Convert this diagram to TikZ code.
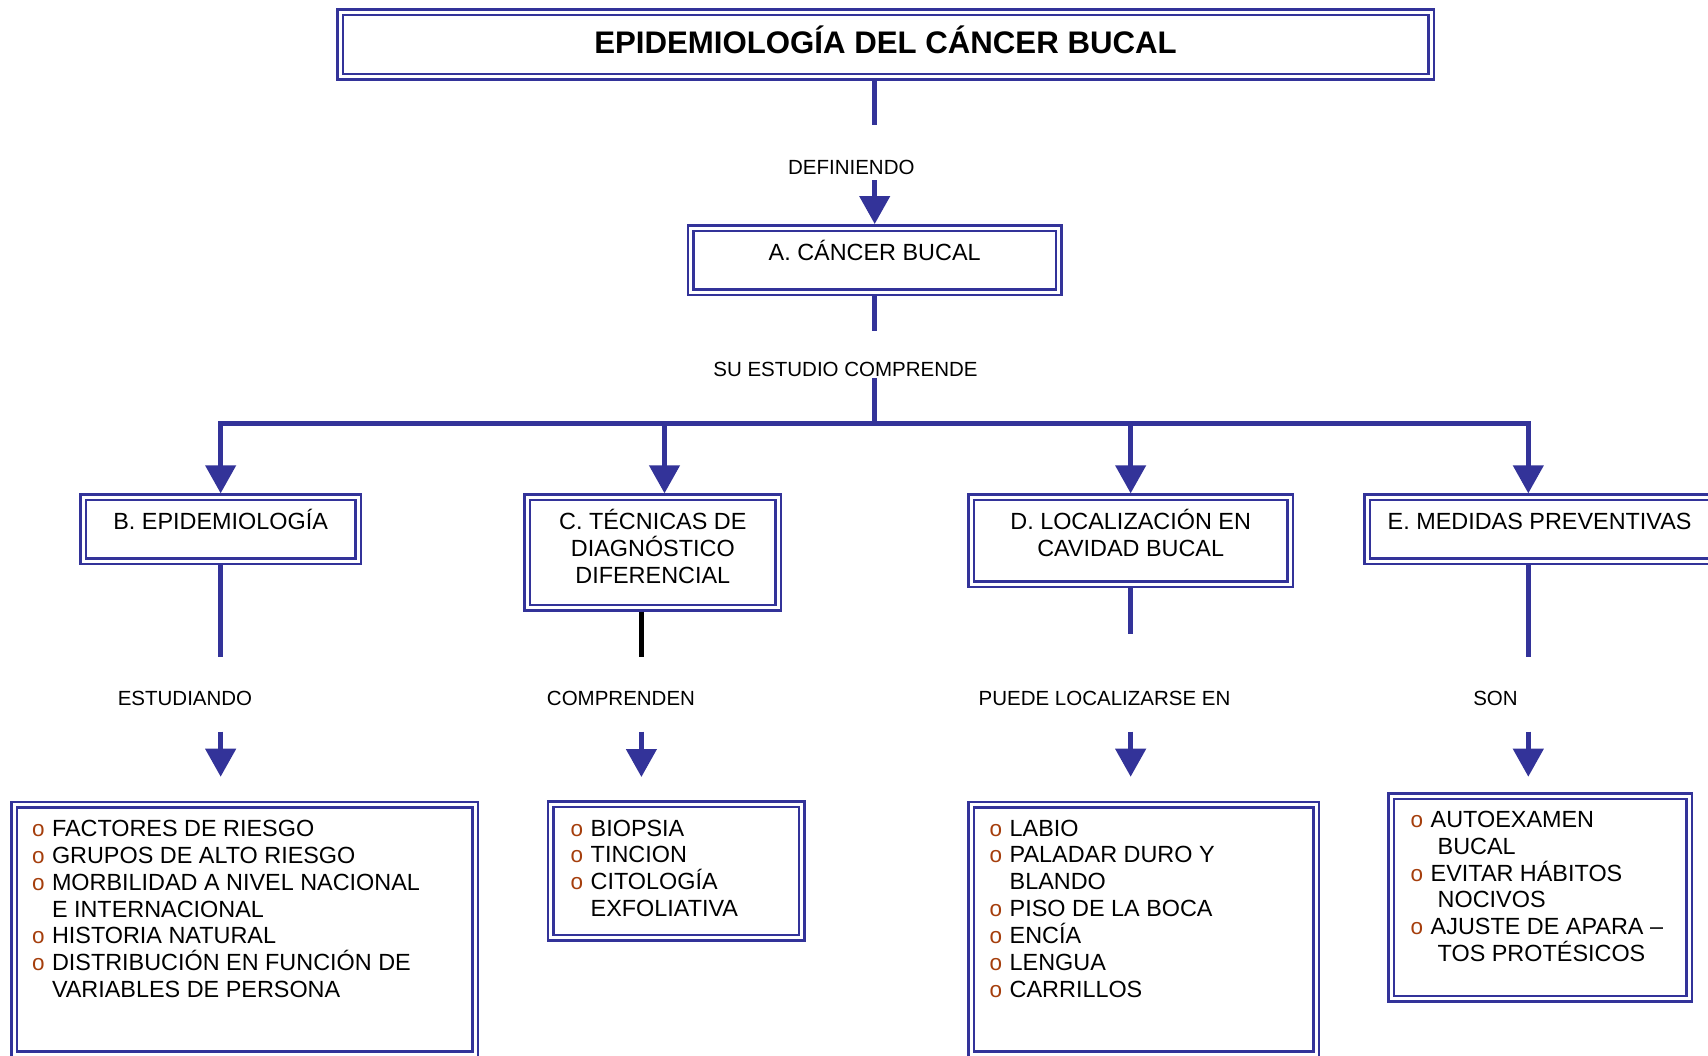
\documentclass[tikz,border=0pt]{standalone}
\usepackage{fontspec}
\setmainfont{Liberation Sans}
\usetikzlibrary{arrows.meta}
\definecolor{bblue}{RGB}{51,51,153}
\definecolor{bulc}{RGB}{165,62,12}
\newcommand\boxtxt[4]{\parbox[c][#2][t]{#1}{\fontsize{23.4}{27}\selectfont\centering\rule{0pt}{#3}#4}}
\newcommand\titletxt[4]{\parbox[c][#2][t]{#1}{\fontsize{31.2}{36}\selectfont\bfseries\centering\rule{0pt}{#3}#4}}
\newcommand\listtxt[5]{\parbox[c][#2][t]{#1}{\fontsize{23.4}{26.85}\selectfont\raggedright\leftskip=#4\relax\rule{0pt}{#3}#5}}
\newcommand\bul{\makebox[20pt][l]{\fontsize{22.5}{22}\selectfont\textcolor{bulc}{o}}}
\newcommand\cont[1][20pt]{\hspace*{#1}}
\begin{document}
\begin{tikzpicture}[x=1pt,y=-1pt,
  dbox/.style={draw=bblue, double=white, double distance=3pt, line width=2.5pt, fill=white, rectangle, inner sep=0pt, outer sep=4pt},
  conn/.style={draw=bblue, line width=4.5pt},
  arr/.style={conn, -{Triangle[width=30pt,length=28pt]}},
  lbl/.style={anchor=base, inner sep=0pt, font=\fontsize{20.5}{24}\selectfont}]
\useasboundingbox (0,0) rectangle (1708,1055);
\clip (0,0) rectangle (1708,1055);
\fill[white] (0,0) rectangle (1708,1055);

% boxes
\node[dbox] (T) at (885.5,44.35) {\titletxt{1091pt}{64.7pt}{41.5pt}{EPIDEMIOLOGÍA DEL CÁNCER BUCAL}};
\node[dbox] (A) at (874.7,260) {\boxtxt{368pt}{64pt}{32pt}{A. CÁNCER BUCAL}};
\node[dbox] (B) at (220.65,529.3) {\boxtxt{274.7pt}{64pt}{31.7pt}{B. EPIDEMIOLOGÍA}};
\node[dbox] (C) at (652.8,552.5) {\boxtxt{251pt}{110.4pt}{31.7pt}{C. TÉCNICAS DE\\DIAGNÓSTICO\\DIFERENCIAL}};
\node[dbox] (D) at (1130.65,540.75) {\boxtxt{318.7pt}{86.9pt}{31.7pt}{D. LOCALIZACIÓN EN\\CAVIDAD BUCAL}};
\node[dbox] (E) at (1539.65,529.3) {\boxtxt{344.7pt}{64pt}{31.7pt}{E. MEDIDAS PREVENTIVAS}};

\node[dbox] (LB) at (244.5,929.35) {\listtxt{461pt}{249.3pt}{31.8pt}{18pt}{\bul FACTORES DE RIESGO\\\bul GRUPOS DE ALTO RIESGO\\\bul MORBILIDAD A NIVEL NACIONAL\\\cont E INTERNACIONAL\\\bul HISTORIA NATURAL\\\bul DISTRIBUCIÓN EN FUNCIÓN DE\\\cont VARIABLES DE PERSONA}};
\node[dbox] (LC) at (676.2,870.85) {\listtxt{251pt}{133.7pt}{32pt}{20pt}{\bul BIOPSIA\\\bul TINCION\\\bul CITOLOGÍA\\\cont EXFOLIATIVA}};
\node[dbox] (LD) at (1143.65,929.35) {\listtxt{344.7pt}{249.3pt}{31.4pt}{18.4pt}{\bul LABIO\\\bul PALADAR DURO Y\\\cont BLANDO\\\bul PISO DE LA BOCA\\\bul ENCÍA\\\bul LENGUA\\\bul CARRILLOS}};
\node[dbox] (LE) at (1540.3,897.35) {\listtxt{298pt}{202.7pt}{31.3pt}{19.4pt}{\bul AUTOEXAMEN\\\cont[27pt]BUCAL\\\bul EVITAR HÁBITOS\\\cont[27pt]NOCIVOS\\\bul AJUSTE DE APARA –\\\cont[27pt]TOS PROTÉSICOS}};

% labels
\node[lbl] (l0) at (851.3,174) {DEFINIENDO};
\node[lbl] (l1) at (845.5,376.7) {SU ESTUDIO COMPRENDE};
\node[lbl] (lB) at (185,705.5) {ESTUDIANDO};
\node[lbl] (lC) at (621,705) {COMPRENDEN};
\node[lbl] (lD) at (1104.5,705) {PUEDE LOCALIZARSE EN};
\node[lbl] (lE) at (1495.5,705.5) {SON};

% top connectors
\coordinate (a0) at (874.7,125);
\coordinate (a1) at (874.7,180);
\draw[conn] (T.south -| A.north) -- (a0);
\draw[arr] (a1) -- (A.north);
\coordinate (b0) at (874.7,330.7);
\coordinate (b1) at (874.7,378);
\coordinate (bar) at (874.7,423.7);
\draw[conn] (A.south) -- (b0);
\draw[conn] (b1) -- (bar);
\coordinate (xc) at ([xshift=11.7pt]C.north);
\coordinate (xe) at ([xshift=-11.35pt]E.north);
\draw[conn] ([xshift=-2.25pt]B.north |- bar) -- ([xshift=2.25pt]xe |- bar);
\draw[arr] ([yshift=2.25pt]B.north |- bar) -- (B.north);
\draw[arr] ([yshift=2.25pt]xc |- bar) -- (xc);
\draw[arr] ([yshift=2.25pt]D.north |- bar) -- (D.north);
\draw[arr] ([yshift=2.25pt]xe |- bar) -- (xe);

% lower connectors
\coordinate (cB) at (220.65,657);
\coordinate (dB) at (220.65,731.7);
\draw[conn] (B.south) -- (cB);
\draw[arr, shorten >=24pt] (dB) -- (LB.north -| dB);

\coordinate (cC) at (641.4,657);
\coordinate (dC) at (641.4,731.7);
\draw[line width=4.5pt, black] (C.south -| cC) -- (cC);
\draw[arr, shorten >=23pt] (dC) -- (LC.north -| dC);

\coordinate (cD) at (1130.65,634);
\coordinate (dD) at (1130.65,731.7);
\draw[conn] (D.south) -- (cD);
\draw[arr, shorten >=24pt] (dD) -- (LD.north -| dD);

\coordinate (cE) at (1528.3,657);
\coordinate (dE) at (1528.3,731.7);
\draw[conn] (E.south -| cE) -- (cE);
\draw[arr, shorten >=15.3pt] (dE) -- (LE.north -| dE);
\end{tikzpicture}
\end{document}
